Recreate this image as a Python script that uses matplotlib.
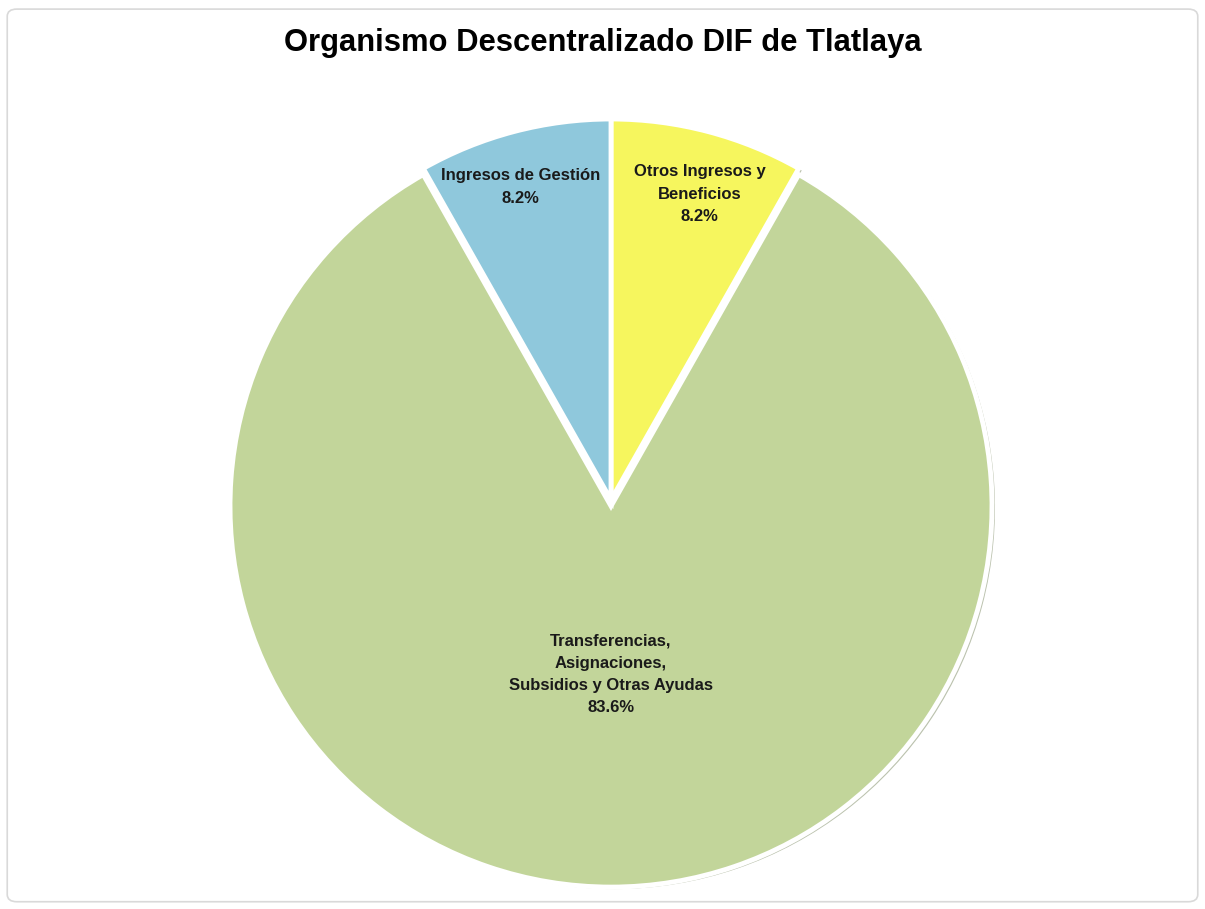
import matplotlib
matplotlib.use("Agg")
import matplotlib.pyplot as plt
import numpy as np
from matplotlib.patches import FancyBboxPatch
import matplotlib.transforms as mtransforms

plt.rcParams['font.family'] = ['Liberation Sans', 'DejaVu Sans']

title = "Organismo Descentralizado DIF de Tlatlaya"
categories = ["Otros Ingresos y\nBeneficios",
              "Transferencias,\nAsignaciones,\nSubsidios y Otras Ayudas",
              "Ingresos de Gestión"]
values = [8.2, 83.6, 8.2]
colors = ["#F6F65E", "#C2D59A", "#8FC8DC"]
explode = [0.0, 0.016, 0.0]
label_dist = [0.836, 0.441, 0.855]
label_angle_adj = [-1.4, 0.0, 1.3]

fig = plt.figure(figsize=(12.05, 9.09), dpi=100)
fig.patch.set_facecolor("white")

frame = FancyBboxPatch((0.006, 0.008), 0.988, 0.982,
                       boxstyle="round,pad=0,rounding_size=0.008",
                       transform=fig.transFigure, facecolor="none",
                       edgecolor="#D9D9D9", linewidth=1.2, zorder=-1)
fig.patches.append(frame)

ax = fig.add_axes([0.17506, 0.00985, 0.664, 0.8802])

# shadow
shadow_off = mtransforms.offset_copy(ax.transData, fig=fig, x=3, y=-2, units='dots')
sw, _ = ax.pie(values, explode=explode, startangle=90, counterclock=False,
               colors=["#8E9A78"] * 3, radius=1.0,
               wedgeprops=dict(linewidth=0, alpha=0.6))
for w in sw:
    w.set_transform(shadow_off)
    w.set_zorder(1)

wedges, _ = ax.pie(values, explode=explode, startangle=90, counterclock=False,
                   colors=colors, radius=1.0,
                   wedgeprops=dict(edgecolor="white", linewidth=3.5))
for w in wedges:
    w.set_zorder(2)
ax.set_xlim(-1.05, 1.05)
ax.set_ylim(-1.05, 1.05)
ax.set_aspect('equal')
ax.axis('off')

total = sum(values)
start = 90.0
for i, (cat, v) in enumerate(zip(categories, values)):
    ang = start - 360.0 * v / total / 2.0 + label_angle_adj[i]
    start -= 360.0 * v / total
    th = np.deg2rad(ang)
    d = label_dist[i] + explode[i]
    ax.text(d * np.cos(th), d * np.sin(th), f"{cat}\n{v:.1f}%",
            ha='center', va='center', fontsize=12, fontweight='bold',
            color="#1A1A1A", linespacing=1.6, zorder=5)

fig.text(0.5, 0.953, title, ha='center', va='center',
         fontsize=22.3, fontweight='bold', color='black')

fig.savefig("out.png", dpi=100)
